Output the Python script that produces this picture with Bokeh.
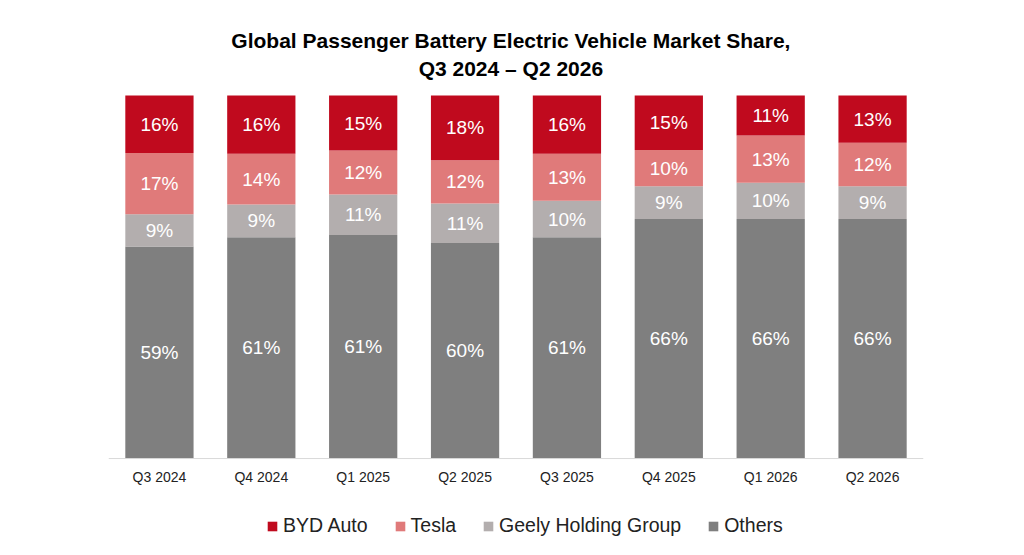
from bokeh.plotting import figure
from bokeh.models import ColumnDataSource, Legend, LegendItem, LabelSet, Range1d, Label, Span
from bokeh.core.properties import value
from bokeh.embed import file_html
from bokeh.resources import INLINE

quarters = ["Q3 2024","Q4 2024","Q1 2025","Q2 2025","Q3 2025","Q4 2025","Q1 2026","Q2 2026"]
others = [59,61,61,60,61,66,66,66]
geely = [9,9,11,11,10,9,10,9]
tesla = [17,14,12,12,13,10,13,12]
byd = [16,16,15,18,16,15,11,13]
title_lines = ["Global Passenger Battery Electric Vehicle Market Share,", "Q3 2024 \u2013 Q2 2026"]

series = ["Others","Geely Holding Group","Tesla","BYD Auto"]
vals = [others, geely, tesla, byd]
colors = ["#7F7F7F","#B3AEAE","#E07A7A","#C00A1E"]

tot = [sum(v[i] for v in vals) for i in range(len(quarters))]
norm = [[v[i]*100.0/tot[i] for i in range(len(quarters))] for v in vals]

p = figure(x_range=quarters, width=1008, height=539, output_backend="svg",
           toolbar_location=None, min_border_left=108, min_border_right=85,
           min_border_bottom=0, min_border_top=0, outline_line_color=None)
p.y_range = Range1d(-22.3, 126.2)
p.x_range.range_padding = 0.0
p.axis.visible = False
p.grid.visible = False

bottom = [0.0]*len(quarters)
renderers = []
for name, v, nv, c in zip(series, vals, norm, colors):
    top = [b+n for b, n in zip(bottom, nv)]
    src = ColumnDataSource(dict(x=quarters, bottom=bottom, top=top,
                                mid=[(b+t)/2 for b, t in zip(bottom, top)],
                                lab=[f"{x}%" for x in v]))
    r = p.vbar(x="x", bottom="bottom", top="top", width=0.67, color=c, source=src, line_color=None)
    renderers.append((name, r))
    p.add_layout(LabelSet(x="x", y="mid", text="lab", source=src, text_align="center",
                          text_baseline="middle", text_color="white", text_font_size="19px",
                          text_font=value("Liberation Sans")))
    bottom = top

p.add_layout(Span(location=0, dimension="width", line_color="#D9D9D9", line_width=1))
p.text(x=quarters, y=[-5.2]*len(quarters), text=quarters, text_align="center",
       text_baseline="middle", text_font=value("Liberation Sans"), text_font_size="14px",
       text_color="#222222")

for txt, y in zip(title_lines, [115.2, 107.5]):
    p.add_layout(Label(x=3.95, y=y, text=txt, text_align="center", text_baseline="middle",
                       text_font="Liberation Sans", text_font_size="21px",
                       text_font_style="bold", text_color="black"))

items = [LegendItem(label=n, renderers=[r]) for n, r in reversed(renderers)]
leg = Legend(items=items, orientation="horizontal", location=(158, 2),
             label_text_font="Liberation Sans", label_text_font_size="19.5px",
             label_text_color="#222222", glyph_width=12, glyph_height=12,
             spacing=26, label_standoff=5, border_line_color=None,
             background_fill_alpha=0, padding=4, label_height=20)
p.add_layout(leg)

open("out.html", "w").write(file_html(p, INLINE))
